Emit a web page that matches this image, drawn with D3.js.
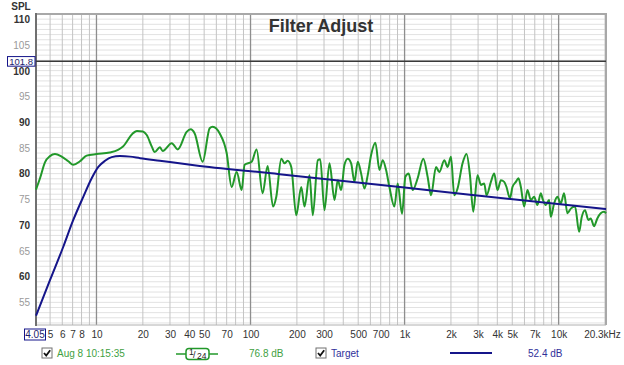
<!DOCTYPE html>
<html><head><meta charset="utf-8">
<script src="https://cdn.jsdelivr.net/npm/d3@7"></script>
<style>
body{margin:0;background:#fff;}
svg{display:block;font-family:"Liberation Sans",Arial,sans-serif;}
</style></head><body>
<svg id="c" width="624" height="365"></svg>
<script>
// ---- data ----
const measFreq = [4.05,4.30,4.63,4.99,5.38,5.94,6.56,7.07,7.81,8.63,10.0,12.2,13.8,14.8,17.2,18.3,20.0,21.2,22.9,23.9,25.8,26.9,30.8,33.7,38.5,40.9,43.4,48.9,54.3,56.8,63.1,70.0,75.4,81.3,87.6,91.6,101.7,109.5,119.8,129.1,140,147,158.4,166.3,173.9,183.8,198.1,213.4,224.2,241.5,253.7,273.4,283.4,302.1,325.5,350.8,368.5,387.6,407.2,427.7,450,472.7,496.6,522.5,548.9,576.5,606.3,646.7,686.6,721.1,758.6,797.1,859,902.1,963.1,1012,1063,1129,1216,1323,1411,1485,1600,1680,1811,1902,2001,2101,2208,2379,2525,2657,2790,2975,3131,3288,3403,3634,3818,4010,4219,4432,4587,4826,5016,5277,5486,5686,5973,6275,6601,6934,7284,7663,7848,8256,8673,8896,9345,9817,10328,10850,11397,11988,12788,13574,14132,14841,15590,16158,16973,17830,18758,19702,20300];
const measSPL = [76.9,79.1,82.2,83.4,83.8,83.3,82.4,81.7,82.4,83.5,83.8,84.1,84.6,85.2,87.8,88.3,88.2,87.5,85.2,84.2,85.1,84.4,85.9,84.7,88.1,88.6,87.8,82.3,88.8,89.1,87.8,84.0,77.4,80.3,76.8,81.7,82.3,84.7,76.2,81.5,73.6,75.5,82.9,82.0,82.5,81.3,71.9,77.4,73.6,79.7,71.9,82.6,82.8,72.9,82.0,74.9,78.7,76.8,81.7,82.9,82.0,78.4,82.3,80.0,77.1,79.7,83.6,86.0,80.7,82.6,80.7,77.4,73.6,78.1,72.2,79.4,80.0,76.8,79.1,82.9,79.4,75.8,81.3,80.3,82.6,81.3,83.3,75.8,77.1,82.0,83.8,79.7,72.6,79.7,77.8,78.1,75.8,78.4,80.0,76.8,78.7,78.4,77.4,75.2,77.4,78.4,79.1,77.4,73.6,76.8,74.9,75.5,73.9,76.2,75.2,73.9,74.9,71.6,74.2,75.5,74.2,76.2,72.3,73.2,73.6,68.7,71.6,72.9,71.0,71.3,69.8,71.3,72.3,72.6,72.3];
const targetFreq = [4.05,4.99,6.09,7.07,8.21,9.31,10.28,11.36,12.55,14.2,16.5,19.2,25.8,46.8,154.4,1000,2657,20300];
const targetSPL  = [52.4,59.3,65.8,71.0,75.5,79.1,81.3,82.5,83.2,83.4,83.3,83.0,82.5,81.5,79.9,77.3,75.9,73.1];
const xTickValues = [4.05,5,6,7,8,10,20,30,40,50,70,100,200,300,500,700,1000,2000,3000,4000,5000,7000,10000,20300];
const yTickValues = [55,60,65,70,75,80,85,90,95,100,105,110];
const refLevel = 101.8;
const legendMeasName = "Aug 8 10:15:35";
const legendMeasLevel = "76.8 dB";
const legendTargetName = "Target";
const legendTargetLevel = "52.4 dB";
const title = "Filter Adjust";

// ---- layout ----
const svg = d3.select("#c");
const L=36, R=606, T=14, B=325;
const x = d3.scaleLog().domain([4.05,20300]).range([L,R]);
const y = d3.scaleLinear().domain([50.6,111.0]).range([B,T]);
const green="#22982a", navy="#15158a";

// grid horizontal every 1 dB
const g = svg.append("g");
d3.range(51,111).forEach(v=>{
  g.append("line").attr("x1",L).attr("x2",R).attr("y1",y(v)).attr("y2",y(v))
   .attr("stroke","#e2e2e2").attr("stroke-width",1);
});
// vertical grid
const vlines=[];
[1,10,100,1000,10000].forEach(dec=>{for(let m=1;m<=9;m++){const f=m*dec; if(f>=5&&f<=20000) vlines.push(f);}});
vlines.forEach(f=>{
  const major=[10,100,1000,10000].includes(f);
  g.append("line").attr("x1",x(f)).attr("x2",x(f)).attr("y1",T).attr("y2",B)
   .attr("stroke",major?"#8e8e8e":"#c4c4c4").attr("stroke-width",major?1.3:1);
});
// border
svg.append("line").attr("x1",L).attr("x2",R+1).attr("y1",T).attr("y2",T).attr("stroke","#a8a8a8").attr("stroke-width",2);
svg.append("line").attr("x1",R).attr("x2",R).attr("y1",T).attr("y2",B).attr("stroke","#a8a8a8").attr("stroke-width",2);
svg.append("line").attr("x1",L).attr("x2",R).attr("y1",B).attr("y2",B).attr("stroke","#b0b0b0").attr("stroke-width",1);
svg.append("line").attr("x1",L).attr("x2",L).attr("y1",T-1).attr("y2",B+1).attr("stroke","#707070").attr("stroke-width",2);

// reference line
svg.append("line").attr("x1",L).attr("x2",R).attr("y1",y(refLevel)).attr("y2",y(refLevel))
  .attr("stroke","#3a3a3a").attr("stroke-width",1.5);

// curves
const line = d3.line().x(d=>x(d[0])).y(d=>y(d[1])).curve(d3.curveMonotoneX);
svg.append("path").datum(measFreq.map((f,i)=>[f,measSPL[i]]))
  .attr("d",line).attr("fill","none").attr("stroke",green).attr("stroke-width",2).attr("stroke-linejoin","round");
svg.append("path").datum(targetFreq.map((f,i)=>[f,targetSPL[i]]))
  .attr("d",line).attr("fill","none").attr("stroke",navy).attr("stroke-width",2);

// title
svg.append("text").attr("x",321).attr("y",32).attr("text-anchor","middle")
  .attr("font-size",18).attr("font-weight","bold").attr("fill","#333").text(title);

// y axis labels
const ya = svg.append("g").attr("transform",`translate(${L-3},0)`)
  .call(d3.axisLeft(y).tickValues(yTickValues).tickSize(0).tickFormat(d3.format("d")));
ya.select(".domain").remove();
ya.selectAll("text").attr("font-family","Liberation Sans, Arial, sans-serif").attr("font-size",10)
  .attr("font-weight",d=>d%10===0?"bold":"normal")
  .attr("fill",d=>d%10===0?"#333":"#9a9a9a")
  .attr("dy",d=>d===100?"0.42em":"0.32em");
svg.append("text").attr("x",21).attr("y",10).attr("text-anchor","middle").attr("font-size",10)
  .attr("font-weight","bold").attr("fill","#333").text("SPL");

// ref level box
svg.append("rect").attr("x",7.5).attr("y",y(refLevel)-4.8).attr("width",27.5).attr("height",9.6)
  .attr("fill","#fff").attr("stroke",navy).attr("stroke-width",1);
svg.append("text").attr("x",21.2).attr("y",y(refLevel)+3.4).attr("text-anchor","middle")
  .attr("font-size",9.5).attr("fill","#1e1e6e").text(refLevel.toFixed(1));

// x axis labels
const xfmt = f => f===4.05?"4.05": f===20300?"20.3kHz": f>=1000? (f/1000)+"k" : String(f);
const xa = svg.append("g").attr("transform",`translate(0,${B+3})`)
  .call(d3.axisBottom(x).tickValues(xTickValues).tickSize(0).tickFormat(xfmt));
xa.select(".domain").remove();
xa.selectAll("text").attr("font-family","Liberation Sans, Arial, sans-serif").attr("font-size",10)
  .attr("fill",d=>d===4.05?"#1e1e6e":"#333")
  .attr("dx",d=>d===20300?-4:(d===4.05?-1.5:0));
svg.append("rect").attr("x",24.5).attr("y",329).attr("width",21).attr("height",11)
  .attr("fill","none").attr("stroke",navy).attr("stroke-width",1);

// legend
function checkbox(cx,cy){
  svg.append("rect").attr("x",cx).attr("y",cy).attr("width",10).attr("height",10)
    .attr("fill","#fff").attr("stroke","#707070").attr("stroke-width",1);
  svg.append("path").attr("d",`M${cx+2},${cy+5} L${cx+4.2},${cy+7.5} L${cx+8.2},${cy+2.2}`)
    .attr("fill","none").attr("stroke","#111").attr("stroke-width",1.8);
}
const LY=357;
checkbox(42,348);
svg.append("text").attr("x",57).attr("y",LY).attr("font-size",10).attr("fill","#3f9f3f").text(legendMeasName);
// smoothing symbol
svg.append("line").attr("x1",176).attr("x2",218).attr("y1",354).attr("y2",354).attr("stroke",green).attr("stroke-width",1.5);
svg.append("rect").attr("x",186).attr("y",348.5).attr("width",23).attr("height",11).attr("rx",3)
  .attr("fill","#fff").attr("stroke",green).attr("stroke-width",1.5);
svg.append("text").attr("x",189).attr("y",355).attr("font-size",8.5).attr("fill","#222").text("1");
svg.append("text").attr("x",193).attr("y",358).attr("font-size",9).attr("fill","#222").text("/");
svg.append("text").attr("x",197).attr("y",359).attr("font-size",8.5).attr("fill","#222").text("24");
svg.append("text").attr("x",249).attr("y",LY).attr("font-size",10).attr("fill","#3f9f3f").text(legendMeasLevel);
checkbox(316,348);
svg.append("text").attr("x",331).attr("y",LY).attr("font-size",10).attr("fill","#30309a").text(legendTargetName);
svg.append("line").attr("x1",450).attr("x2",492).attr("y1",353).attr("y2",353).attr("stroke",navy).attr("stroke-width",2);
svg.append("text").attr("x",528).attr("y",LY).attr("font-size",10).attr("fill","#30309a").text(legendTargetLevel);
</script>
</body></html>
